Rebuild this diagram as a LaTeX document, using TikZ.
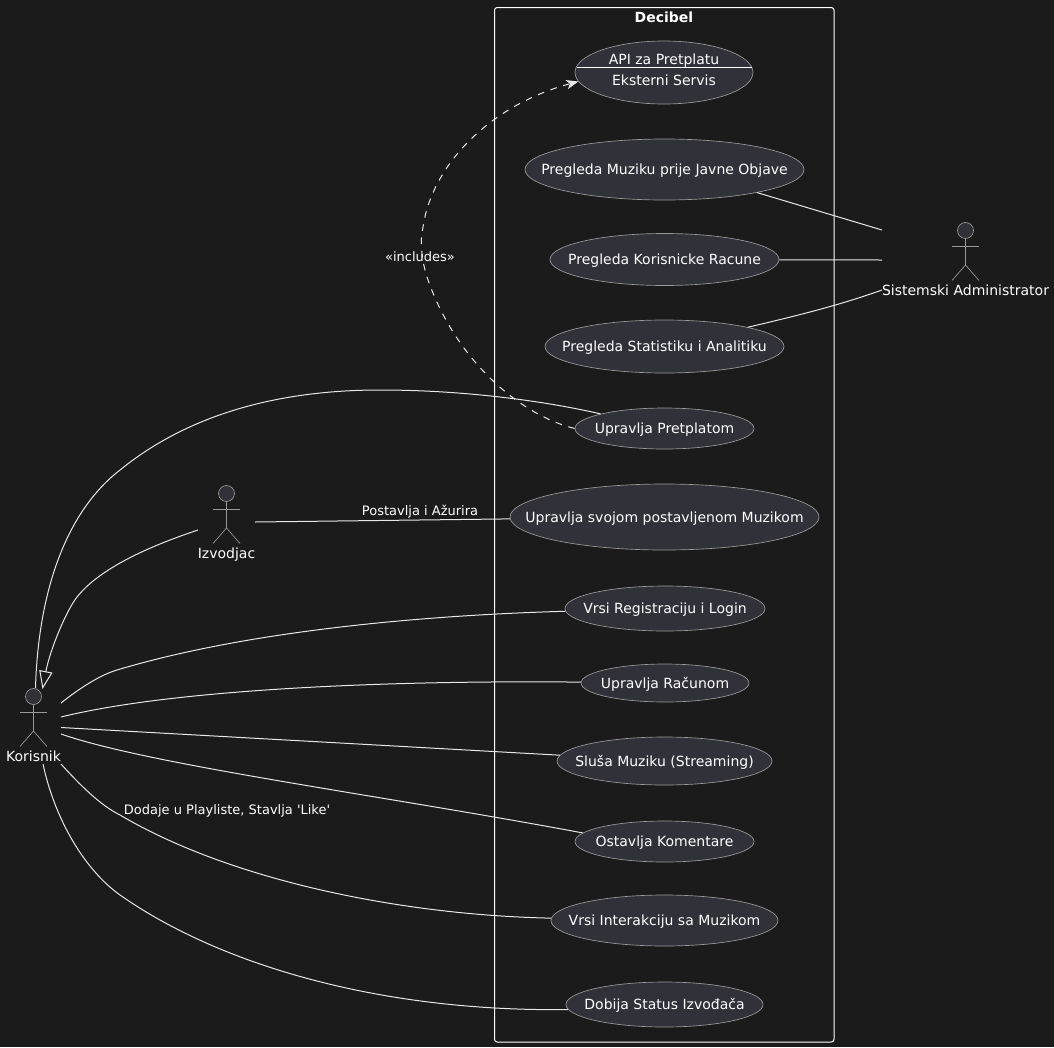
\documentclass[tikz,border=0pt]{standalone}
\usepackage{fontspec}
\setmainfont{DejaVu Sans}
\usetikzlibrary{shapes.geometric,arrows.meta}
\definecolor{canvas}{HTML}{1B1B1B}
\definecolor{ucfill}{HTML}{313139}
\definecolor{ucline}{HTML}{9A9A9A}
\definecolor{wire}{HTML}{E8E8E8}
\newcommand{\uctext}[1]{\makebox[0pt]{#1}}
\tikzset{%
  every usecase/.style 2 args={
    ellipse,
    draw=ucline,
    fill=ucfill,
    line width=0.5pt,
    inner sep=0pt,
    text=white,
    font=\fontsize{10.5}{12}\selectfont,
    text height=9.5pt,
    text depth=2pt,
    minimum width=#1*0.75pt,
    minimum height=#2*0.75pt
  },
  every wire/.style={
    draw=wire,
    line width=0.75pt
  },
  every caption/.style={
    text=white,
    inner sep=0pt,
    font=\fontsize{9.75}{12}\selectfont,
    text height=9pt,
    text depth=2pt
  },
  every actorname/.style={
    text=white,
    inner sep=0pt,
    font=\fontsize{10.5}{12}\selectfont,
    text height=9.5pt,
    text depth=2pt
  },
}

\begin{document}
\begin{tikzpicture}[> = stealth, x=0.75pt, y=-0.75pt]
\useasboundingbox[fill=canvas] (0,0) rectangle (1054,1047);
\draw[white,line width=0.75pt,rounded corners=2pt] (494.5,7.5) rectangle (834,1042);
\node[text=white,inner sep=0pt,font=\fontsize{10.5}{12}\selectfont\bfseries] (system) at (664,17.5) {Decibel};

% use cases
\node[every usecase={178}{63}] (apiServis) at (664,72.5) {};
\node[every actorname] (apiTop) at (664,59) {API za Pretplatu};
\node[every actorname] (apiBottom) at (664,80) {Eksterni Servis};
\draw[white,line width=0.5pt] (576.5,67.5) -- (752,67.5);
\node[every usecase={279}{61}] (pregledMuzike) at (664.5,169.5) {\uctext{Pregleda Muziku prije Javne Objave}};
\node[every usecase={229}{52}] (pregledRacuna) at (664.5,259.5) {\uctext{Pregleda Korisnicke Racune}};
\node[every usecase={239}{53}] (statistika) at (664.5,346.5) {\uctext{Pregleda Statistiku i Analitiku}};
\node[every usecase={179}{41}] (pretplata) at (664.5,428.5) {\uctext{Upravlja Pretplatom}};
\node[every usecase={309}{66}] (svojaMuzika) at (664.5,517) {\uctext{Upravlja svojom postavljenom Muzikom}};
\node[every usecase={200}{45}] (registracija) at (665,608.5) {\uctext{Vrsi Registraciju i Login}};
\node[every usecase={168}{38}] (racun) at (665,683) {\uctext{Upravlja Računom}};
\node[every usecase={215}{48}] (slusanje) at (664.5,761) {\uctext{Sluša Muziku (Streaming)}};
\node[every usecase={179}{41}] (komentari) at (664.5,841.5) {\uctext{Ostavlja Komentare}};
\node[every usecase={227}{51}] (interakcija) at (664.5,920.5) {\uctext{Vrsi Interakciju sa Muzikom}};
\node[every usecase={197}{45}] (status) at (664.5,1004.5) {\uctext{Dobija Status Izvođača}};

% actors
\foreach \name/\x/\y/\lab in {korisnik/33.5/696.5/Korisnik,izvodjac/226.5/493.5/Izvodjac,admin/965.5/230.5/Sistemski Administrator}
    {\node[circle,draw=ucline,fill=ucfill,line width=0.5pt,inner sep=0pt,minimum size=12pt] (\name) at (\x,\y){};
    \draw[ucline,line width=0.5pt] (\name.south) -- (\x,\y+34.5);
    \draw[ucline,line width=0.5pt] (\x-13.5,\y+15.5) -- (\x+13.5,\y+15.5);
    \draw[ucline,line width=0.5pt] (\x-13.5,\y+50) -- (\x,\y+34.5) -- (\x+13.5,\y+50);
    \node[every actorname] (\name_lab) at (\x,\y+60) {\lab};}

% free ends of the connectors
\coordinate (korA) at (61,703);
\coordinate (korB) at (61,717);
\coordinate (korC) at (61,727.5);
\coordinate (korD) at (61,734);
\coordinate (korE) at (61,764);
\coordinate (korF) at (43,764);
\coordinate (korG) at (35.5,688);
\coordinate (korH) at (42.5,689);
\coordinate (izvA) at (198,530);
\coordinate (izvB) at (255,522);
\coordinate (admA) at (882,230);
\coordinate (admB) at (882,260);
\coordinate (admC) at (882,290);

\draw[every wire] (korA) .. controls (80,688) and (100,675) .. (117,670) .. controls (250,630) and (430,615) .. (registracija);
\draw[every wire] (korB) .. controls (170,690) and (380,680) .. (racun);
\draw[every wire] (korC) -- (slusanje);
\draw[every wire] (korD) .. controls (150,765) and (380,795) .. (komentari.174);
\draw[every wire] (korE) .. controls (80,785) and (100,805) .. (120,815) .. controls (230,880) and (400,915) .. (interakcija);
\draw[every wire] (korF) .. controls (55,820) and (85,870) .. (120,895) .. controls (220,965) and (380,1012) .. (status.183);
\draw[every wire] (korG) .. controls (38,600) and (62,515) .. (120,470) .. controls (200,405) and (300,390) .. (380,390) .. controls (460,390) and (540,400) .. (pretplata);
\draw[every wire,-{Triangle[open,length=13.5pt,width=10pt]}] (izvA) .. controls (150,546) and (100,568) .. (77,597) .. controls (66,611) and (50,650) .. (korH);
\draw[every wire] (izvB) -- (svojaMuzika);
\draw[every wire] (pregledMuzike.346) -- (admA);
\draw[every wire] (pregledRacuna) -- (admB);
\draw[every wire] (statistika.13) .. controls (800,315) and (840,305) .. (admC);
\draw[every wire,dashed,dash pattern=on 5pt off 5pt,-{Stealth[length=9pt,width=7pt,inset=2.5pt]}] (pretplata.west) .. controls (520,415) and (455,360) .. (427,277) .. controls (421,258) and (420,240) .. (423,227) .. controls (432,165) and (490,105) .. (apiServis.186);

\node[every caption] (includesLab) at (420,257) {«includes»};
\node[every caption] (postavljaLab) at (420,511) {Postavlja i Ažurira};
\node[every caption] (dodajeLab) at (227,810) {Dodaje u Playliste, Stavlja \textquotesingle Like\textquotesingle};
\end{tikzpicture}
\end{document}
